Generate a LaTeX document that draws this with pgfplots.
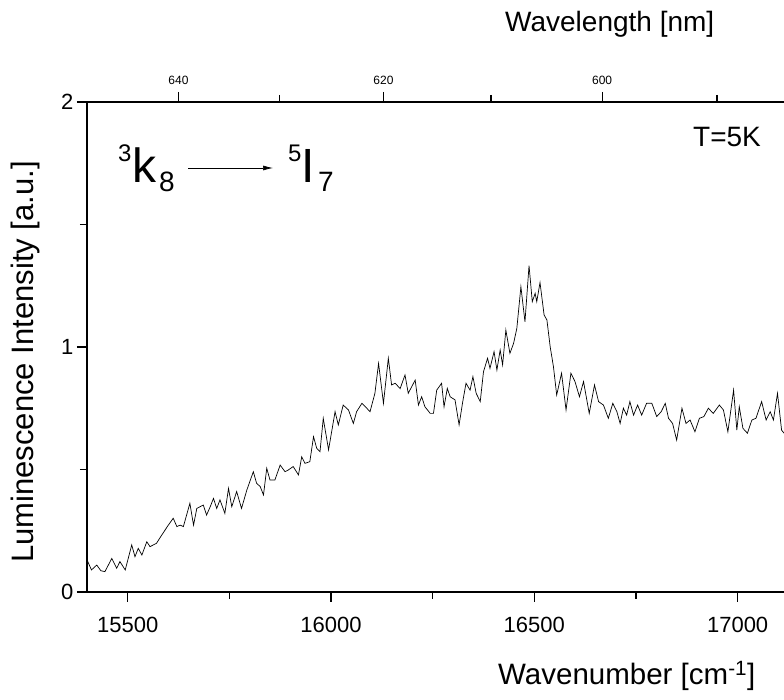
\documentclass[border=0pt]{standalone}
\usepackage{fontspec}
\setmainfont{Liberation Sans}
\usepackage{pgfplots}
\pgfplotsset{compat=1.18}
\usetikzlibrary{arrows.meta}
\begin{document}
\begin{tikzpicture}[x=1pt,y=1pt]
\useasboundingbox (0,0) rectangle (784,700);
\begin{axis}[
  at={(87pt,108pt)}, anchor=south west,
  scale only axis, width=697pt, height=490pt,
  xmin=15400, xmax=17114, ymin=0, ymax=2,
  axis x line*=bottom, axis y line*=left,
  axis line style={-, line width=1.2pt},
  xtick={15500,16000,16500,17000},
  minor xtick={15750,16250,16750},
  ytick={0,1,2}, minor ytick={0.5,1.5},
  tick align=outside,
  major tick length=10pt, minor tick length=7pt,
  every tick/.style={line width=1.2pt, black},
  scaled x ticks=false, scaled y ticks=false,
  /pgf/number format/assume math mode=true,
  /pgf/number format/1000 sep={},
  xticklabel style={font=\fontsize{22}{22}\selectfont, yshift=-12pt},
  yticklabel style={font=\fontsize{22}{22}\selectfont},
]
\addplot[black, line width=0.7pt] coordinates {
(15399,0.135) (15411,0.090) (15424,0.110) (15434,0.087) (15444,0.083)
(15461,0.137) (15473,0.097) (15481,0.124) (15494,0.090) (15510,0.192)
(15518,0.144) (15526,0.178) (15535,0.151) (15547,0.205) (15555,0.185)
(15571,0.199) (15584,0.233) (15600,0.273) (15612,0.301) (15621,0.267)
(15629,0.273) (15637,0.267) (15653,0.362) (15662,0.273) (15670,0.341)
(15686,0.355) (15694,0.314) (15703,0.348) (15711,0.382) (15719,0.341)
(15727,0.376) (15739,0.321) (15748,0.423) (15756,0.348) (15768,0.410)
(15780,0.341) (15793,0.416) (15809,0.491) (15817,0.444) (15826,0.430)
(15834,0.396) (15842,0.505) (15850,0.457) (15862,0.457) (15875,0.518)
(15887,0.491) (15895,0.498) (15907,0.512) (15920,0.478) (15928,0.552)
(15936,0.525) (15948,0.532) (15957,0.634) (15965,0.586) (15973,0.573)
(15981,0.709) (15994,0.580) (16010,0.736) (16018,0.682) (16030,0.763)
(16043,0.743) (16055,0.688) (16063,0.736) (16076,0.770) (16088,0.750)
(16096,0.736) (16108,0.811) (16117,0.933) (16129,0.770) (16141,0.954)
(16149,0.845) (16158,0.852) (16170,0.830)
(16182,0.886) (16190,0.811) (16207,0.865) (16215,0.763) (16223,0.797)
(16231,0.756) (16244,0.729) (16252,0.729) (16260,0.824) (16272,0.852)
(16278,0.756) (16286,0.831) (16293,0.797) (16305,0.784) (16315,0.682)
(16324,0.777) (16332,0.852) (16342,0.824) (16349,0.879) (16357,0.811)
(16367,0.777) (16375,0.899) (16385,0.954) (16391,0.913) (16401,0.981)
(16408,0.906) (16416,0.988) (16422,0.927) (16430,1.069) (16440,0.974)
(16449,1.015) (16457,1.076) (16467,1.246) (16477,1.103) (16487,1.332)
(16495,1.185) (16502,1.219) (16506,1.185) (16514,1.263) (16524,1.131)
(16531,1.110) (16539,1.001) (16547,0.920) (16555,0.804) (16567,0.893)
(16578,0.743) (16590,0.893) (16600,0.859) (16611,0.797) (16621,0.859)
(16635,0.729) (16648,0.845) (16658,0.777) (16670,0.763) (16682,0.709)
(16693,0.770) (16703,0.736) (16711,0.688) (16719,0.750) (16727,0.722)
(16735,0.777) (16744,0.722) (16754,0.763) (16764,0.722) (16776,0.770)
(16789,0.770) (16801,0.716) (16812,0.736) (16822,0.770) (16830,0.709)
(16840,0.688) (16850,0.620) (16863,0.750) (16873,0.688) (16883,0.702)
(16895,0.654) (16906,0.709) (16917,0.716) (16928,0.750) (16940,0.729)
(16955,0.763) (16965,0.743) (16976,0.654) (16990,0.824) (16998,0.661)
(17004,0.756) (17013,0.668) (17024,0.648) (17035,0.702) (17045,0.709)
(17059,0.777) (17070,0.702) (17080,0.736) (17088,0.702) (17098,0.811)
(17108,0.661) (17114,0.648)
};
\end{axis}
\begin{axis}[
  at={(87pt,108pt)}, anchor=south west,
  scale only axis, width=697pt, height=490pt,
  xmin=15400, xmax=17114, ymin=0, ymax=2,
  axis x line*=top, axis y line=none,
  axis line style={-, line width=1.2pt},
  scaled x ticks=false,
  xtick={15625,16129.03,16666.67}, xticklabels={640,620,600},
  minor xtick={15873.02,16393.44,16949.15},
  tick align=outside,
  major tick length=10pt, minor tick length=7pt,
  every tick/.style={line width=1.2pt, black},
  xticklabel style={font=\fontsize{12}{12}\selectfont, yshift=4pt},
]
\end{axis}
\node[anchor=base west, inner sep=0pt, font=\fontsize{29.5}{29.5}\selectfont] at (498,15) {Wavenumber [cm\textsuperscript{-1}]};
\node[anchor=base west, inner sep=0pt, font=\fontsize{28}{28}\selectfont] at (505,668) {Wavelength [nm]};
\node[anchor=base, rotate=90, inner sep=0pt, font=\fontsize{31}{31}\selectfont] at (33,338) {Luminescence Intensity [a.u.]};
\node[anchor=base west, inner sep=0pt, font=\fontsize{28}{28}\selectfont] at (693,553) {T=5K};
\node[anchor=base west, inner sep=0pt, font=\fontsize{24}{24}\selectfont] at (118,538) {3};
\node[anchor=base west, inner sep=0pt, font=\fontsize{48}{48}\selectfont] at (132,517) {k};
\node[anchor=base west, inner sep=0pt, font=\fontsize{28}{28}\selectfont] at (159,508) {8};
\draw[-{Latex[length=10pt,width=5pt]}, line width=0.7pt] (188,532) -- (273,532);
\node[anchor=base west, inner sep=0pt, font=\fontsize{24}{24}\selectfont] at (288,538) {5};
\node[anchor=base west, inner sep=0pt, font=\fontsize{48}{48}\selectfont] at (301,517) {I};
\node[anchor=base west, inner sep=0pt, font=\fontsize{28}{28}\selectfont] at (318,508) {7};
\end{tikzpicture}
\end{document}
